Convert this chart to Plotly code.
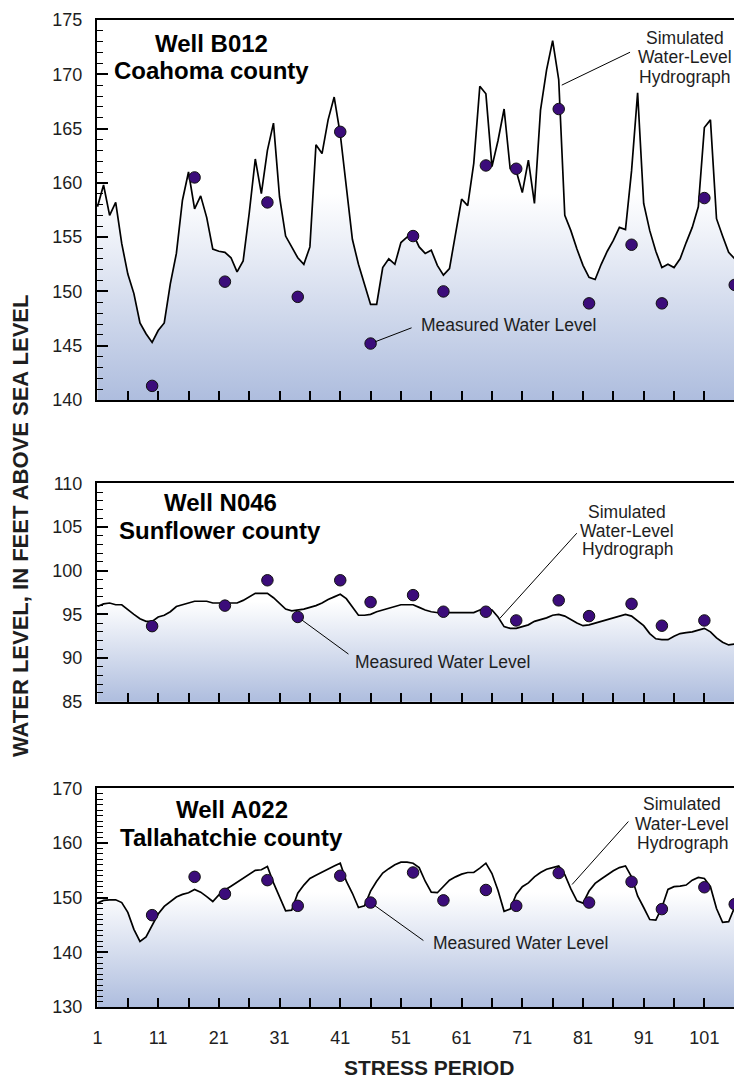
import plotly.graph_objects as go

# ---------------- data ----------------
periods = list(range(1, 108))

b012_sim = [157.8, 159.8, 157.0, 158.2, 154.4, 151.6, 149.8, 147.1, 146.1, 145.3,
            146.4, 147.1, 150.7, 153.5, 158.4, 161.0, 157.6, 158.8, 156.8, 153.9,
            153.7, 153.6, 153.1, 151.8, 152.8, 157.2, 162.2, 159.0, 163.0, 165.5,
            158.7, 155.1, 154.1, 153.1, 152.5, 154.1, 163.5, 162.7, 165.8, 167.9,
            164.5, 159.9, 154.8, 152.5, 150.7, 148.8, 148.8, 152.2, 153.0, 152.5,
            154.5, 155.0, 155.3, 154.1, 153.5, 153.8, 152.4, 151.5, 152.1, 155.3,
            158.5, 157.9, 161.8, 168.9, 168.2, 161.5, 163.9, 166.8, 161.3, 161.1,
            159.1, 162.1, 158.1, 166.7, 170.4, 173.1, 169.5, 157.0, 155.6, 153.9,
            152.4, 151.3, 151.1, 152.5, 153.7, 154.7, 155.9, 155.7, 161.1, 168.3,
            158.1, 155.6, 153.7, 152.2, 152.5, 152.2, 153.0, 154.5, 155.9, 157.8,
            165.1, 165.8, 156.7, 155.1, 153.6, 153.0, 154.8]

n046_sim = [95.9, 96.2, 96.3, 96.1, 96.1, 95.5, 95.0, 94.5, 94.2, 94.2,
            94.7, 94.9, 95.3, 95.9, 96.1, 96.3, 96.5, 96.5, 96.5, 96.3,
            96.3, 96.3, 96.3, 96.3, 96.6, 97.0, 97.4, 97.4, 97.4, 96.9,
            96.3, 95.6, 95.4, 95.5, 95.6, 95.8, 96.0, 96.3, 96.7, 97.0,
            97.3, 96.8, 95.8, 94.9, 94.9, 95.0, 95.3, 95.5, 95.7, 95.9,
            96.1, 96.1, 96.1, 95.8, 95.5, 95.3, 95.2, 95.1, 95.2, 95.2,
            95.2, 95.2, 95.2, 95.5, 95.7, 95.5, 94.7, 93.6, 93.4, 93.4,
            93.6, 93.8, 94.2, 94.4, 94.6, 94.9, 95.0, 94.8, 94.4, 94.0,
            93.7, 93.8, 94.0, 94.2, 94.4, 94.6, 94.8, 95.0, 94.8, 94.3,
            93.7, 92.8, 92.2, 92.1, 92.1, 92.5, 92.8, 92.9, 93.0, 93.2,
            93.4, 93.0, 92.3, 91.8, 91.5, 91.6, 92.0]

a022_sim = [149.0, 149.5, 149.6, 149.6, 149.1, 147.3, 144.2, 142.0, 142.8, 145.0,
            147.0, 148.4, 149.3, 150.1, 150.6, 150.9, 151.5, 151.0, 150.2, 149.3,
            150.5, 151.4, 152.1, 152.8, 153.5, 154.2, 155.0, 155.1, 155.7, 152.7,
            150.1, 147.6, 147.7, 150.8, 152.3, 153.5, 154.1, 154.7, 155.3, 155.8,
            156.3, 153.0, 150.8, 148.2, 148.5, 151.2, 153.0, 154.5, 155.3, 156.0,
            156.5, 156.5, 156.3, 155.5, 153.0, 151.0, 150.9, 152.0, 153.2, 153.8,
            154.3, 154.6, 154.6, 155.4, 156.3, 154.4, 151.3, 147.5, 147.9, 150.6,
            152.0, 152.7, 153.8, 154.6, 155.2, 155.5, 155.8, 154.2, 151.6, 149.4,
            149.0, 151.2, 152.6, 153.4, 154.2, 154.9, 155.5, 155.8, 153.8, 150.3,
            148.2, 146.0, 145.9, 148.2, 151.5, 152.0, 152.1, 152.3, 153.2, 153.7,
            153.5, 152.0, 148.0, 145.5, 145.6, 148.3, 149.3]

b012_obs_period = [10, 17, 22, 29, 34, 41, 46, 53, 58, 65, 70, 77, 82, 89, 94, 101, 106]
b012_obs = [141.3, 160.5, 150.9, 158.2, 149.5, 164.7, 145.2, 155.1, 150.0, 161.6,
            161.3, 166.8, 148.9, 154.3, 148.9, 158.6, 150.6]

n046_obs_period = [10, 22, 29, 34, 41, 46, 53, 58, 65, 70, 77, 82, 89, 94, 101]
n046_obs = [93.65, 96.0, 98.9, 94.7, 98.9, 96.4, 97.2, 95.3, 95.3, 94.3,
            96.6, 94.8, 96.2, 93.7, 94.3]

a022_obs_period = [10, 17, 22, 29, 34, 41, 46, 53, 58, 65, 70, 77, 82, 89, 94, 101, 106]
a022_obs = [146.8, 153.8, 150.7, 153.2, 148.5, 154.0, 149.1, 154.6, 149.5, 151.4,
            148.5, 154.5, 149.1, 152.9, 147.9, 151.9, 148.8]

well_names = ["Well B012", "Well N046", "Well A022"]
county_names = ["Coahoma county", "Sunflower county", "Tallahatchie county"]
sim_label_lines = ["Simulated", "Water-Level", "Hydrograph"]
obs_label = "Measured Water Level"
x_tick_values = [1, 11, 21, 31, 41, 51, 61, 71, 81, 91, 101]

# ---------------- style ----------------
FONT = "Liberation Sans, Arial, Helvetica, sans-serif"
BLUE = "rgb(174,189,222)"
PURPLE = "#3b0c7a"
TXT = "#1e1e1e"

panels = [
    dict(sim=b012_sim, op=b012_obs_period, ov=b012_obs, yr=[140, 175], dt=5,
         gstop=159.0, dom=[0.615, 1.0],
         wy=(0.939, 0.868), wx=0.178,
         sim_x=97.8, sim_ys=(173.31, 171.57, 169.78),
         sim_tail=(89.0, 172.1), sim_head=(77.5, 169.0),
         obs_txt=(68.8, 146.92), obs_tail=(53.0, 146.7), obs_head=(46, 145.2)),
    dict(sim=n046_sim, op=n046_obs_period, ov=n046_obs, yr=[85, 110], dt=5,
         gstop=96.5, dom=[0.3093, 0.5306],
         wy=(0.910, 0.786), wx=0.191,
         sim_x=88.28, sim_ys=(106.75, 104.57, 102.47),
         sim_tail=(80.2, 104.46), sim_head=(67.3, 94.54),
         obs_txt=(57.84, 89.53), obs_tail=(42.6, 90.33), obs_head=(34, 94.7)),
    dict(sim=a022_sim, op=a022_obs_period, ov=a022_obs, yr=[130, 170], dt=10,
         gstop=151.0, dom=[0.0, 0.2216],
         wy=(0.901, 0.773), wx=0.209,
         sim_x=97.34, sim_ys=(167.08, 163.47, 159.95),
         sim_tail=(88.7, 164.2), sim_head=(79.2, 152.4),
         obs_txt=(70.63, 141.77), obs_tail=(54.95, 141.96), obs_head=(46, 149.1)),
]

fig = go.Figure()
annotations = []
layout_axes = {}

for i, p in enumerate(panels, start=1):
    xa = "x" if i == 1 else f"x{i}"
    ya = "y" if i == 1 else f"y{i}"
    fig.add_trace(go.Scatter(
        x=periods, y=p["sim"], mode="lines",
        line=dict(color="black", width=1.7),
        fill="tozeroy",
        fillgradient=dict(type="vertical",
                          colorscale=[[0, BLUE], [1, "white"]],
                          start=p["yr"][0], stop=p["gstop"]),
        xaxis=xa, yaxis=ya, showlegend=False, hoverinfo="skip"))
    fig.add_trace(go.Scatter(
        x=p["op"], y=p["ov"], mode="markers",
        marker=dict(size=11.5, color=PURPLE, line=dict(color="#111111", width=1)),
        xaxis=xa, yaxis=ya, showlegend=False))

    xkey = "xaxis" if i == 1 else f"xaxis{i}"
    ykey = "yaxis" if i == 1 else f"yaxis{i}"
    layout_axes[xkey] = dict(
        domain=[0, 1], range=[0.92, 107.2], anchor=ya,
        showline=True, linecolor="black", linewidth=2, mirror=True,
        ticks="inside", ticklen=9, tickwidth=1.5, tickcolor="black",
        tickmode="array", tickvals=x_tick_values,
        ticktext=[str(v) for v in x_tick_values],
        minor=dict(tick0=1, dtick=5, ticks="inside", ticklen=9,
                   tickwidth=1.5, tickcolor="black"),
        showgrid=False, zeroline=False,
        showticklabels=(i == 3),
        tickfont=dict(family=FONT, size=18, color=TXT),
        ticklabelstandoff=13)
    layout_axes[ykey] = dict(
        domain=p["dom"], range=p["yr"], anchor=xa,
        showline=True, linecolor="black", linewidth=2, mirror=False,
        ticks="inside", ticklen=11, tickwidth=1.5, tickcolor="black",
        tick0=p["yr"][0], dtick=p["dt"],
        minor=dict(dtick=1, ticks="inside", ticklen=6,
                   tickwidth=1.2, tickcolor="black"),
        showgrid=False, zeroline=False,
        tickfont=dict(family=FONT, size=18, color=TXT),
        ticklabelstandoff=9)

    xd = f"{xa} domain"
    yd = f"{ya} domain"
    annotations.append(dict(xref=xd, yref=yd, x=p["wx"], y=p["wy"][0],
                            text=f"<b>{well_names[i-1]}</b>", showarrow=False,
                            font=dict(family=FONT, size=24, color="black"),
                            xanchor="center", yanchor="middle"))
    annotations.append(dict(xref=xd, yref=yd, x=p["wx"], y=p["wy"][1],
                            text=f"<b>{county_names[i-1]}</b>", showarrow=False,
                            font=dict(family=FONT, size=24, color="black"),
                            xanchor="center", yanchor="middle"))
    # simulated hydrograph label (one annotation per line) and its leader
    for line_text, ly in zip(sim_label_lines, p["sim_ys"]):
        annotations.append(dict(xref=xa, yref=ya, x=p["sim_x"], y=ly,
                                text=line_text, showarrow=False,
                                xanchor="center", yanchor="middle",
                                font=dict(family=FONT, size=17.5, color=TXT)))
    annotations.append(dict(xref=xa, yref=ya, x=p["sim_head"][0], y=p["sim_head"][1],
                            axref=xa, ayref=ya, ax=p["sim_tail"][0], ay=p["sim_tail"][1],
                            text="", showarrow=True, arrowhead=0, arrowwidth=1,
                            arrowcolor="black", standoff=0))
    # measured water level label and its leader
    annotations.append(dict(xref=xa, yref=ya, x=p["obs_txt"][0], y=p["obs_txt"][1],
                            text=obs_label, showarrow=False,
                            xanchor="center", yanchor="middle",
                            font=dict(family=FONT, size=17.5, color=TXT)))
    annotations.append(dict(xref=xa, yref=ya, x=p["obs_head"][0], y=p["obs_head"][1],
                            axref=xa, ayref=ya, ax=p["obs_tail"][0], ay=p["obs_tail"][1],
                            text="", showarrow=True, arrowhead=0, arrowwidth=1,
                            arrowcolor="black", standoff=5))

annotations.append(dict(xref="paper", yref="paper", x=-0.1194, y=0.4873,
                        text="<b>WATER LEVEL, IN FEET ABOVE SEA LEVEL</b>",
                        textangle=-90, showarrow=False,
                        font=dict(family=FONT, size=22, color=TXT),
                        xanchor="center", yanchor="middle"))
annotations.append(dict(xref="paper", yref="paper", x=0.5147, y=-0.0618,
                        text="<b>STRESS PERIOD</b>", showarrow=False,
                        font=dict(family=FONT, size=21, color=TXT),
                        xanchor="center", yanchor="middle"))

# the page body adds an 8px margin; size the figure so the plot lands in place
fig.update_layout(
    width=734, height=1072,
    margin=dict(l=89, r=0, t=12, b=73),
    plot_bgcolor="white", paper_bgcolor="white",
    showlegend=False,
    annotations=annotations,
    **layout_axes)

fig.write_html("out.html")
